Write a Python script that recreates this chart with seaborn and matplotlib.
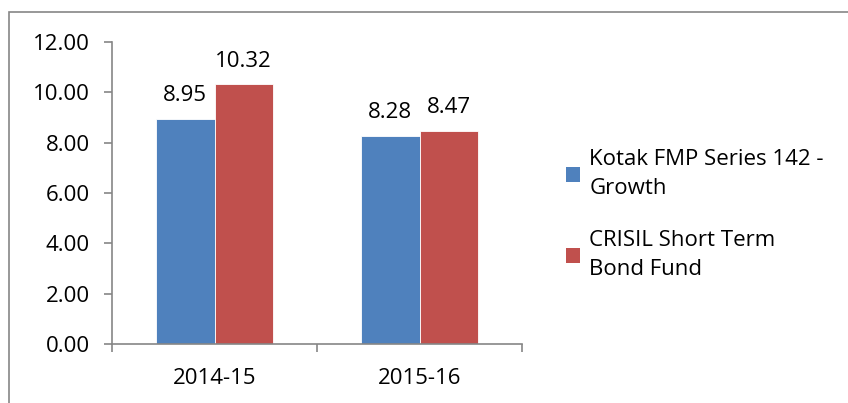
import matplotlib
matplotlib.use("Agg")
import matplotlib.pyplot as plt
import matplotlib.patches as mpatches
import seaborn as sns
import pandas as pd

# Données
years = ["2014-15", "2015-16"]
series_names = ["Kotak FMP Series 142 - Growth", "CRISIL Short Term Bond Fund"]
legend_labels = ["Kotak FMP Series 142 -\nGrowth", "CRISIL Short Term\nBond Fund"]
kotak_values = [8.95, 8.28]
crisil_values = [10.32, 8.47]
colors = ["#4F81BD", "#C0504D"]
y_ticks = [0, 2, 4, 6, 8, 10, 12]

df = pd.DataFrame({
    "year": years * 2,
    "series": [series_names[0]] * 2 + [series_names[1]] * 2,
    "value": kotak_values + crisil_values,
})

sns.set_style("white")
plt.rcParams["font.family"] = ["Open Sans", "DejaVu Sans"]
plt.rcParams["text.color"] = "black"
plt.rcParams["xtick.color"] = "black"
plt.rcParams["ytick.color"] = "black"

W, H = 848, 403
FS = 16
fig = plt.figure(figsize=(W / 100, H / 100), dpi=100)

# cadre gris autour du graphique
fig.patches.append(mpatches.Rectangle((9 / W, -0.1), 1.2, 1 - 12 / H + 0.1,
                                      transform=fig.transFigure, fill=False,
                                      edgecolor="#868686", linewidth=1.2))

ax = fig.add_axes([112 / W, 59 / H, 410 / W, 302 / H])
sns.barplot(data=df, x="year", y="value", hue="series", palette=colors,
            saturation=1, width=0.57, gap=0, ax=ax, legend=False, errorbar=None,
            edgecolor="white", linewidth=0.6)

for container in ax.containers:
    ax.bar_label(container, fmt="%.2f", padding=9, fontsize=FS)

ax.set_xlim(-0.5, 1.5)
ax.set_ylim(0, 12)
ax.set_yticks(y_ticks)
ax.set_yticklabels([f"{v:.2f}" for v in y_ticks], fontsize=FS)
ax.set_xlabel("")
ax.set_ylabel("")
ax.tick_params(axis="x", which="major", bottom=False, labelsize=FS, pad=14)
ax.set_xticks([-0.5, 0.5, 1.5], minor=True)
ax.tick_params(axis="x", which="minor", bottom=True, length=6, width=1.2,
               color="#868686", direction="out")
ax.tick_params(axis="y", left=True, length=6, width=1.2, color="#868686",
               direction="out", pad=10)
for side in ["top", "right"]:
    ax.spines[side].set_visible(False)
for side in ["left", "bottom"]:
    ax.spines[side].set_color("#868686")
    ax.spines[side].set_linewidth(1.2)

# légende à droite
handles = [mpatches.Patch(facecolor=c, edgecolor="none") for c in colors]
leg = fig.legend(handles, legend_labels, loc="center left",
                 bbox_to_anchor=(546 / W, 0.5 - 13 / H), frameon=False, fontsize=FS,
                 handlelength=0.65, handleheight=0.65, handletextpad=0.4,
                 labelspacing=1.4)
for t in leg.get_texts():
    t.set_linespacing(1.5)

fig.savefig("out.png", dpi=100)
